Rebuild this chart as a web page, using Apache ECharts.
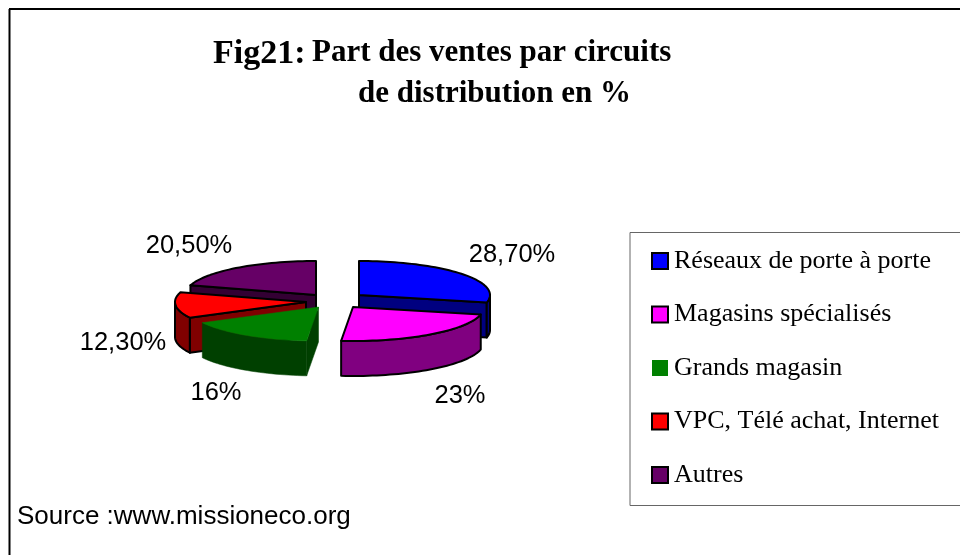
<!DOCTYPE html>
<html><head><meta charset="utf-8">
<style>html,body{margin:0;padding:0;background:#fff}#c{width:960px;height:555px}</style>
<script src="https://cdn.jsdelivr.net/npm/echarts@6/dist/echarts.min.js"></script>
</head><body><div id="c"></div>
<script>
const categories = ['Réseaux de porte à porte','Magasins spécialisés','Grands magasin','VPC, Télé achat, Internet','Autres'];
const values = [28.7, 23, 16, 12.3, 20.5];
const valueLabels = ['28,70%','23%','16%','12,30%','20,50%'];

// Styling and pie geometry
const topColors  = ['#0000FF','#FF00FF','#008000','#FF0000','#660066'];
const sideColors = ['#000080','#800080','#004000','#800000','#330033'];
const edgeWidths = [2,2,0,2,2];
const drawOrder  = [2,5,4,3,1];
const explodeXY  = [[22,-5.5],[16,6.5],[-18.5,6.5],[-31,1.5],[-21,-5.5]];
const labelPos   = [[512,255],[460,396],[216,393],[123,343],[189,246]];
const CX=337, CY=300.5, RX=131, RY=34, DEPTH=35;

const total = values.reduce((a,b)=>a+b,0);
const starts = []; values.reduce((s,v,i)=>{starts[i]=s; return s+v/total*360;},0);
const rad = d=>d*Math.PI/180;

function sliceChildren(i){
  const a0=starts[i], a1=a0+values[i]/total*360;
  const ax=CX+explodeXY[i][0], ay=CY+explodeXY[i][1];
  const pt=(deg,d=0)=>[ax+RX*Math.sin(rad(deg)), ay-RY*Math.cos(rad(deg))+d];
  const arc=(from,to,d=0)=>{const n=Math.max(2,Math.ceil(Math.abs(to-from)/2)),r=[];
    for(let k=0;k<=n;k++) r.push(pt(from+(to-from)*k/n,d)); return r;};
  const sty=c=>({fill:c,stroke:edgeWidths[i]?'#000':c,lineWidth:edgeWidths[i]||0.5,lineJoin:'round'});
  const kids=[];
  const poly=(p,c)=>kids.push({type:'polygon',shape:{points:p},style:sty(c)});
  // cut faces that look towards the viewer
  if(Math.cos(rad(a0-90))<-0.001){
    const e=pt(a0); poly([[ax,ay],e,[e[0],e[1]+DEPTH],[ax,ay+DEPTH]],sideColors[i]);
  }
  if(Math.cos(rad(a1+90))<-0.001){
    const e=pt(a1); poly([[ax,ay],e,[e[0],e[1]+DEPTH],[ax,ay+DEPTH]],sideColors[i]);
  }
  // outer wall: front half of the rim only
  const w0=Math.max(a0,90), w1=Math.min(a1,270);
  if(w1>w0) poly(arc(w0,w1).concat(arc(w1,w0,DEPTH)),sideColors[i]);
  poly([[ax,ay]].concat(arc(a0,a1)),topColors[i]);
  kids.push({type:'text',x:labelPos[i][0],y:labelPos[i][1],
    style:{text:valueLabels[i],fontFamily:'Liberation Sans',fontSize:25.5,fill:'#000',align:'center',verticalAlign:'middle'}});
  return kids;
}

const series = categories.map((name,i)=>({
  type:'custom', name, coordinateSystem:'none', z:drawOrder[i],
  data:[values[i]], silent:true, animation:false,
  itemStyle:{color:topColors[i],borderColor:edgeWidths[i]?'#000':topColors[i],borderWidth:edgeWidths[i]?1.5:0},
  renderItem:()=>({type:'group',children:sliceChildren(i)})
}));

const chart = echarts.init(document.getElementById('c'),null,{renderer:'canvas'});
chart.setOption({
  animation:false,
  backgroundColor:'#fff',
  title:[
    {text:'Fig21:',left:213,top:37,padding:0,textStyle:{fontFamily:'Liberation Serif',fontWeight:'bold',fontSize:34,color:'#000'}},
    {text:'Part des ventes par circuits',left:312,top:37,padding:0,textStyle:{fontFamily:'Liberation Serif',fontWeight:'bold',fontSize:31,color:'#000'}},
    {text:'de distribution en %',left:358,top:78,padding:0,textStyle:{fontFamily:'Liberation Serif',fontWeight:'bold',fontSize:31,color:'#000'}},
    {text:'Source :www.missioneco.org',left:17,top:504,padding:0,textStyle:{fontFamily:'Liberation Sans',fontWeight:'normal',fontSize:26,color:'#000'}}
  ],
  legend:{
    orient:'vertical',left:651,top:248,padding:0,itemGap:27.5,itemWidth:16,itemHeight:16,
    icon:'rect',selectedMode:false,data:categories,
    textStyle:{fontFamily:'Liberation Serif',fontSize:26,color:'#000',padding:[0,0,0,1]}
  },
  graphic:[
    {type:'line',shape:{x1:9.5,y1:9,x2:9.5,y2:555},style:{stroke:'#000',lineWidth:2}},
    {type:'line',shape:{x1:9,y1:9,x2:960,y2:9},style:{stroke:'#000',lineWidth:2}},
    {type:'polyline',shape:{points:[[960,232.5],[630,232.5],[630,505.5],[960,505.5]]},style:{stroke:'#666',lineWidth:1,fill:null}}
  ],
  series
});
</script></body></html>
